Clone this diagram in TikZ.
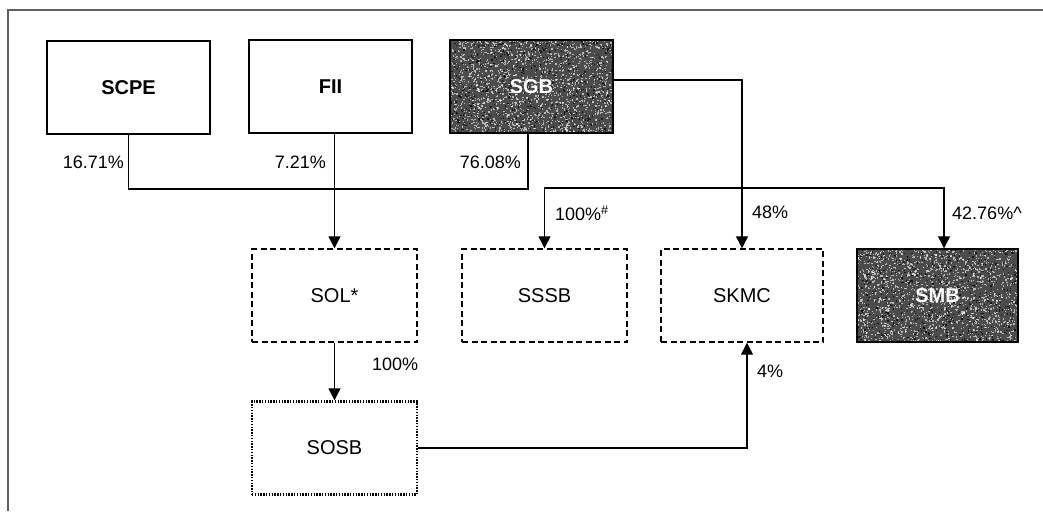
\documentclass[tikz,border=0pt]{standalone}
\usepackage{fontspec}
\setmainfont{Liberation Sans}
\usetikzlibrary{arrows.meta,calc}

\definecolor{framec}{gray}{0.38}
\definecolor{darkbox}{gray}{0.30}

\tikzset{
  unit/.style={x=1pt,y=-1pt},
  entity/.style={draw=black,line width=1.4pt,fill=white,inner sep=0pt,
    minimum width=163pt,minimum height=93pt,font=\fontsize{20}{24}\selectfont\bfseries},
  held/.style={entity,fill=darkbox,text=white,
    path picture={
      \foreach \i in {1,...,1700}
        \fill[white,opacity=0.6]
          ($(path picture bounding box.north west)+({rnd*165},{rnd*95})$) rectangle ++(1.3,1.3);
      \foreach \i in {1,...,700}
        \fill[black,opacity=0.7]
          ($(path picture bounding box.north west)+({rnd*165},{rnd*95})$) rectangle ++(1.3,1.3);
    }},
  subsid/.style={draw=black,line width=1.4pt,dash pattern=on 6pt off 3.5pt,fill=white,
    inner sep=0pt,minimum width=165pt,minimum height=93pt,font=\fontsize{20}{24}\selectfont},
  indirect/.style={subsid,line width=2.4pt,dash pattern=on 1.4pt off 1.4pt},
  link/.style={line width=1.2pt,draw=black},
  owns/.style={link,-{Triangle[length=12pt,width=12pt]}},
  share/.style={font=\fontsize{18}{22}\selectfont,inner sep=0pt},
}

\begin{document}
\begin{tikzpicture}[unit]
\pgfmathsetseed{7}
\useasboundingbox (0,0) rectangle (1043,511);

% page frame (top and left rules)
\draw[framec,line width=1.6pt] (8,511) -- (8,10) -- (1043,10);

% shareholders
\node[entity] (SCPE) at (128.5,87.5) {SCPE};
\node[entity] (FII)  at (330.5,86.5) {FII};
\node[held]   (SGB)  at (531.5,86.5) {SGB};

% subsidiaries
\node[subsid] (SOL)  at (334.5,295.5) {SOL*};
\node[subsid] (SSSB) at (544.5,295.5) {SSSB};
\node[subsid,minimum width=162pt] (SKMC) at (742,295.5) {SKMC};
\node[held,minimum width=161pt] (SMB) at (937.5,295.5) {SMB};
\node[indirect] (SOSB) at (334.5,448) {SOSB};

% junction points of the ownership lines
\coordinate (busA) at (334.5,189);
\coordinate (busB) at (742,188);
\coordinate (sgbOut) at ($(SGB.east)+(0,-6.5)$);
\coordinate (sgbDown) at ($(SGB.south)+(-3.5,0)$);
\coordinate (smbIn) at ($(SMB.north)+(6.5,0)$);
\coordinate (skmcIn) at ($(SKMC.south)+(5,0)$);

% SCPE, FII and SGB into SOL
\draw[link] (SCPE.south) |- (busA);
\draw[link] (sgbDown) |- (busA);
\draw[link] (FII.south -| busA) -- (busA);
\draw[owns] (busA) -- (SOL.north);

% SGB holdings
\draw[owns] (sgbOut) -| (SKMC.north);
\draw[owns] (busB) -| (SSSB.north);
\draw[owns] (busB) -| (smbIn);

% SOL into SOSB, SOSB into SKMC
\draw[owns] (SOL.south) -- (SOSB.north);
\draw[owns] (SOSB.east) -| (skmcIn);

% shareholding percentages
\node[share,anchor=east] (pSCPE) at (124,162) {16.71\%};
\node[share,anchor=east] (pFII)  at (326,162) {7.21\%};
\node[share,anchor=east] (pSGB)  at (521,162) {76.08\%};
\node[share,anchor=west] (pSSSB) at (555,213) {100\%\textsuperscript{\#}};
\node[share,anchor=west] (pSKMC) at (752,212) {48\%};
\node[share,anchor=west] (pSMB)  at (952,213) {42.76\%\textasciicircum};
\node[share,anchor=west] (pSOSB) at (372,364) {100\%};
\node[share,anchor=west] (pSK2)  at (757,371) {4\%};
\end{tikzpicture}
\end{document}
